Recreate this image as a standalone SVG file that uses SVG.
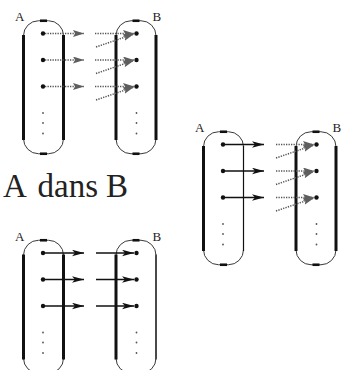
<svg xmlns="http://www.w3.org/2000/svg" width="350" height="370" viewBox="0 0 350 370">
<style>
.cap{fill:none;stroke:#3a3a3a;stroke-width:1}
.bar{stroke:#111;stroke-width:3;fill:none}
.thin{stroke:#111;stroke-width:1.2;fill:none}
.cap-end{stroke:#111;stroke-width:2.6}
.pt{fill:#111}
.ell{fill:#555}
.lbl{font-family:"Liberation Serif","DejaVu Serif",serif;font-size:13px;fill:#222}
.dot{fill:none;stroke:#555;stroke-width:1.5;stroke-dasharray:1.3 1.2}
.sol{fill:none;stroke:#111;stroke-width:1.7}
.big{font-family:"Liberation Serif","DejaVu Serif",serif;font-size:33px;fill:#222}
</style>
<defs>
<marker id="ag" markerUnits="userSpaceOnUse" markerWidth="12" markerHeight="8" refX="11" refY="3.5" orient="auto" viewBox="0 0 12 8">
<path d="M0,0 L11,3.5 L0,7 L2,3.5 z" fill="#5e5e5e"/>
</marker>
<marker id="ab" markerUnits="userSpaceOnUse" markerWidth="13" markerHeight="8" refX="12" refY="3.3" orient="auto" viewBox="0 0 13 8">
<path d="M0,0 L12,3.3 L0,6.6 L3,3.3 z" fill="#111"/>
</marker>
<g id="capA">
<rect class="cap" x="23.5" y="20.75" width="40" height="133" rx="15" ry="15"/>
<line class="cap-end" x1="40" y1="20.75" x2="47" y2="20.75"/>
<line class="cap-end" x1="40" y1="153.75" x2="47" y2="153.75"/>
<circle class="pt" cx="43" cy="33.5" r="2.2"/>
<circle class="pt" cx="43" cy="60" r="2.2"/>
<circle class="pt" cx="43" cy="86.5" r="2.2"/>
<circle class="ell" cx="43" cy="113" r="0.9"/>
<circle class="ell" cx="43" cy="123" r="0.9"/>
<circle class="ell" cx="43" cy="133.5" r="0.9"/>
<text class="lbl" x="15" y="21">A</text>
</g>
<g id="capB">
<rect class="cap" x="116" y="20.75" width="40" height="133" rx="15" ry="15"/>
<line class="cap-end" x1="132.5" y1="20.75" x2="139.5" y2="20.75"/>
<line class="cap-end" x1="132.5" y1="153.75" x2="139.5" y2="153.75"/>
<circle class="pt" cx="136.5" cy="33.5" r="2.2"/>
<circle class="pt" cx="136.5" cy="60" r="2.2"/>
<circle class="pt" cx="136.5" cy="86.5" r="2.2"/>
<circle class="ell" cx="136.5" cy="113" r="0.9"/>
<circle class="ell" cx="136.5" cy="123" r="0.9"/>
<circle class="ell" cx="136.5" cy="133.5" r="0.9"/>
<text class="lbl" x="152.5" y="21">B</text>
</g>
</defs>

<!-- Panel 1 -->
<g id="panel1">
<g id="p1-A"><use href="#capA"/><line class="bar" x1="23.5" y1="35" x2="23.5" y2="140"/><line class="bar" x1="63.5" y1="35" x2="63.5" y2="140"/></g>
<g id="p1-B"><use href="#capB"/><line class="bar" x1="116" y1="35" x2="116" y2="140"/><line class="bar" x1="156" y1="35" x2="156" y2="140"/></g>
<g id="p1-connectors">
<line class="dot" x1="45" y1="33.5" x2="84" y2="33.5" marker-end="url(#ag)"/>
<line class="dot" x1="45" y1="60" x2="84" y2="60" marker-end="url(#ag)"/>
<line class="dot" x1="45" y1="86.5" x2="84" y2="86.5" marker-end="url(#ag)"/>
<line class="dot" x1="95" y1="33.5" x2="134" y2="33.5" marker-end="url(#ag)"/>
<line class="dot" x1="95" y1="60" x2="134" y2="60" marker-end="url(#ag)"/>
<line class="dot" x1="95" y1="86.5" x2="134" y2="86.5" marker-end="url(#ag)"/>
<line class="dot" x1="96" y1="47" x2="134" y2="34" marker-end="url(#ag)"/>
<line class="dot" x1="96" y1="73.5" x2="134" y2="60.5" marker-end="url(#ag)"/>
<line class="dot" x1="96" y1="100" x2="134" y2="87" marker-end="url(#ag)"/>
</g>
</g>

<text class="big" x="3" y="197">A <tspan x="37.5">dans</tspan> <tspan x="106">B</tspan></text>

<!-- Panel 2 -->
<g id="panel2" transform="translate(180,111)">
<g id="p2-A"><use href="#capA"/><line class="bar" x1="23.5" y1="35" x2="23.5" y2="140"/><line class="thin" x1="63.5" y1="35" x2="63.5" y2="140"/></g>
<g id="p2-B"><use href="#capB"/><line class="bar" x1="116" y1="35" x2="116" y2="140"/><line class="bar" x1="156" y1="35" x2="156" y2="140"/></g>
<g id="p2-connectors">
<line class="sol" x1="43" y1="33.5" x2="84" y2="33.5" marker-end="url(#ab)"/>
<line class="sol" x1="43" y1="60" x2="84" y2="60" marker-end="url(#ab)"/>
<line class="sol" x1="43" y1="86.5" x2="84" y2="86.5" marker-end="url(#ab)"/>
<line class="dot" x1="96" y1="33.5" x2="134" y2="33.5" marker-end="url(#ag)"/>
<line class="dot" x1="96" y1="60" x2="134" y2="60" marker-end="url(#ag)"/>
<line class="dot" x1="96" y1="86.5" x2="134" y2="86.5" marker-end="url(#ag)"/>
<line class="dot" x1="96" y1="47" x2="134" y2="34" marker-end="url(#ag)"/>
<line class="dot" x1="96" y1="73.5" x2="134" y2="60.5" marker-end="url(#ag)"/>
<line class="dot" x1="96" y1="100" x2="134" y2="87" marker-end="url(#ag)"/>
</g>
</g>

<!-- Panel 3 -->
<g id="panel3" transform="translate(0,219.5)">
<g id="p3-A"><use href="#capA"/><line class="bar" x1="23.5" y1="35" x2="23.5" y2="140"/><line class="bar" x1="63.5" y1="35" x2="63.5" y2="140"/></g>
<g id="p3-B"><use href="#capB"/><line class="bar" x1="116" y1="35" x2="116" y2="140"/><line class="thin" x1="156" y1="35" x2="156" y2="140"/></g>
<g id="p3-connectors">
<line class="sol" x1="43" y1="33.5" x2="84" y2="33.5" marker-end="url(#ab)"/>
<line class="sol" x1="43" y1="60" x2="84" y2="60" marker-end="url(#ab)"/>
<line class="sol" x1="43" y1="86.5" x2="84" y2="86.5" marker-end="url(#ab)"/>
<line class="sol" x1="96" y1="33.5" x2="134" y2="33.5" marker-end="url(#ab)"/>
<line class="sol" x1="96" y1="60" x2="134" y2="60" marker-end="url(#ab)"/>
<line class="sol" x1="96" y1="86.5" x2="134" y2="86.5" marker-end="url(#ab)"/>
</g>
</g>
</svg>
